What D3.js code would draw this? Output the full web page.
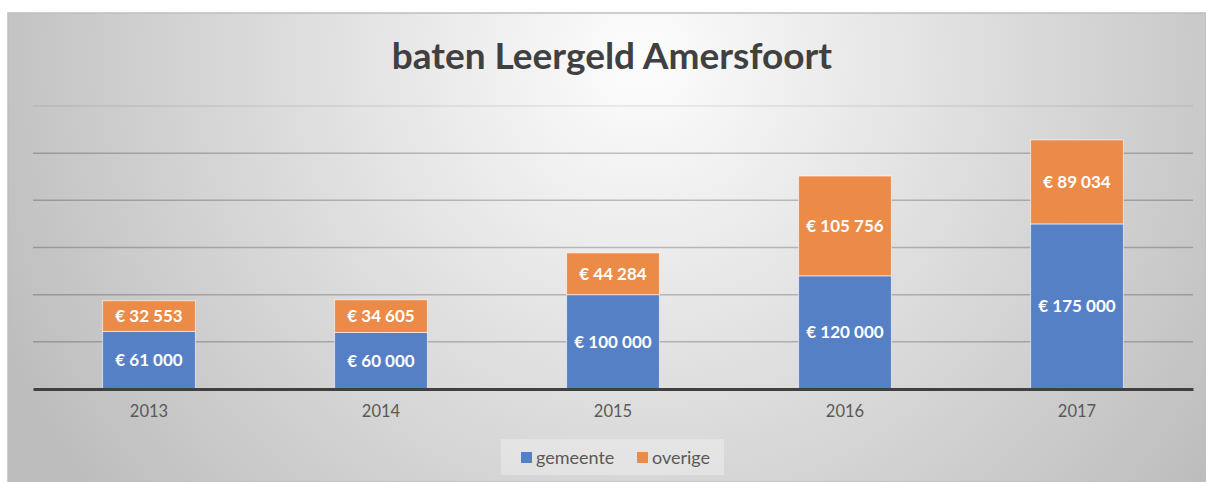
<!DOCTYPE html>
<html>
<head>
<meta charset="utf-8">
<script src="https://d3js.org/d3.v7.min.js"></script>
<style>
  body { margin: 0; background: #fff; }
  svg { display: block; }
</style>
</head>
<body>
<svg width="1206" height="482" id="mainsvg"></svg>
<script>
  const years = ['2013', '2014', '2015', '2016', '2017'];
  const gemeente = [61000, 60000, 100000, 120000, 175000];
  const overige = [32553, 34605, 44284, 105756, 89034];
  const seriesNames = ['gemeente', 'overige'];
  const seriesColors = ['#5680c6', '#ec8b48'];
  const yTicks = [50000, 100000, 150000, 200000, 250000, 300000];

  const svg = d3.select('#mainsvg');
  const width = +svg.attr('width');
  const height = +svg.attr('height');
  const font = 'Lato, "Open Sans", sans-serif';

  // background panel with a soft radial gradient
  const defs = svg.append('defs');
  const grad = defs.append('radialGradient')
    .attr('id', 'bg')
    .attr('gradientUnits', 'userSpaceOnUse')
    .attr('cx', 640).attr('cy', 60).attr('r', 700);
  grad.append('stop').attr('offset', '0%').attr('stop-color', '#fdfdfd');
  grad.append('stop').attr('offset', '100%').attr('stop-color', '#bdbdbd');

  svg.append('rect')
    .attr('x', 8).attr('y', 13)
    .attr('width', width - 8).attr('height', height - 13)
    .attr('fill', 'url(#bg)')
    .attr('stroke', '#bfbfbf').attr('stroke-width', 1.5);

  const margin = {top: 106, right: 13, bottom: 94, left: 33};
  const innerWidth = width - margin.left - margin.right;
  const innerHeight = height - margin.top - margin.bottom;

  const g = svg.append('g')
    .attr('transform', `translate(${margin.left}, ${margin.top})`);

  const x = d3.scaleBand().domain(years).range([0, innerWidth])
    .paddingInner(0.6).paddingOuter(0.3);
  const y = d3.scaleLinear().domain([0, 300000]).range([innerHeight + 1, 0]);

  // gridlines
  g.append('g')
    .selectAll('line')
    .data(yTicks)
    .join('line')
    .attr('x1', 0).attr('x2', innerWidth)
    .attr('y1', d => y(d)).attr('y2', d => y(d))
    .attr('stroke', '#000')
    .attr('stroke-opacity', d => d === 300000 ? 0.08 : 0.22)
    .attr('stroke-width', 1.5);

  const table = years.map((yr, i) => ({year: yr, gemeente: gemeente[i], overige: overige[i]}));
  const stacked = d3.stack().keys(seriesNames)(table);

  const loc = d3.formatLocale({decimal: ',', thousands: ' ', grouping: [3], currency: ['€ ', '']});
  const fmt = v => '€ ' + loc.format(',d')(v);

  stacked.forEach((layer, li) => {
    const lg = g.append('g');
    lg.selectAll('rect')
      .data(layer)
      .join('rect')
      .attr('x', d => x(d.data.year))
      .attr('y', d => y(d[1]))
      .attr('width', x.bandwidth())
      .attr('height', d => y(d[0]) - y(d[1]))
      .attr('fill', seriesColors[li])
      .attr('stroke', '#fff')
      .attr('stroke-opacity', 0.6)
      .attr('stroke-width', 1);

    lg.selectAll('text')
      .data(layer)
      .join('text')
      .attr('x', d => x(d.data.year) + x.bandwidth() / 2)
      .attr('y', d => (y(d[0]) + y(d[1])) / 2)
      .attr('dy', '0.35em')
      .attr('text-anchor', 'middle')
      .attr('fill', '#fff')
      .attr('font-family', font)
      .attr('font-weight', 'bold')
      .attr('font-size', '17px')
      .text(d => fmt(d[1] - d[0]));
  });

  // x axis
  const xAxis = g.append('g')
    .attr('transform', `translate(0, ${innerHeight + 1})`)
    .call(d3.axisBottom(x).tickSize(0).tickPadding(16));
  xAxis.select('.domain').attr('stroke', '#404040').attr('stroke-width', 3);
  xAxis.selectAll('.tick text')
    .attr('font-family', font)
    .attr('font-size', '16.5px')
    .attr('fill', '#595959');

  // title
  svg.append('text')
    .attr('x', 612).attr('y', 69)
    .attr('text-anchor', 'middle')
    .attr('font-family', font)
    .attr('font-weight', 'bold')
    .attr('font-size', '37px')
    .attr('fill', '#404040')
    .text('baten Leergeld Amersfoort');

  // legend
  const legend = svg.append('g');
  legend.append('rect')
    .attr('x', 501).attr('y', 439)
    .attr('width', 223).attr('height', 36)
    .attr('fill', '#fff').attr('fill-opacity', 0.3);
  const legendX = [521, 637];
  seriesNames.forEach((name, i) => {
    legend.append('rect')
      .attr('x', legendX[i]).attr('y', 452)
      .attr('width', 11).attr('height', 11)
      .attr('fill', seriesColors[i]);
    legend.append('text')
      .attr('x', legendX[i] + 15).attr('y', 464)
      .attr('font-family', font)
      .attr('font-size', '18px')
      .attr('fill', '#595959')
      .text(name);
  });
</script>
</body>
</html>
